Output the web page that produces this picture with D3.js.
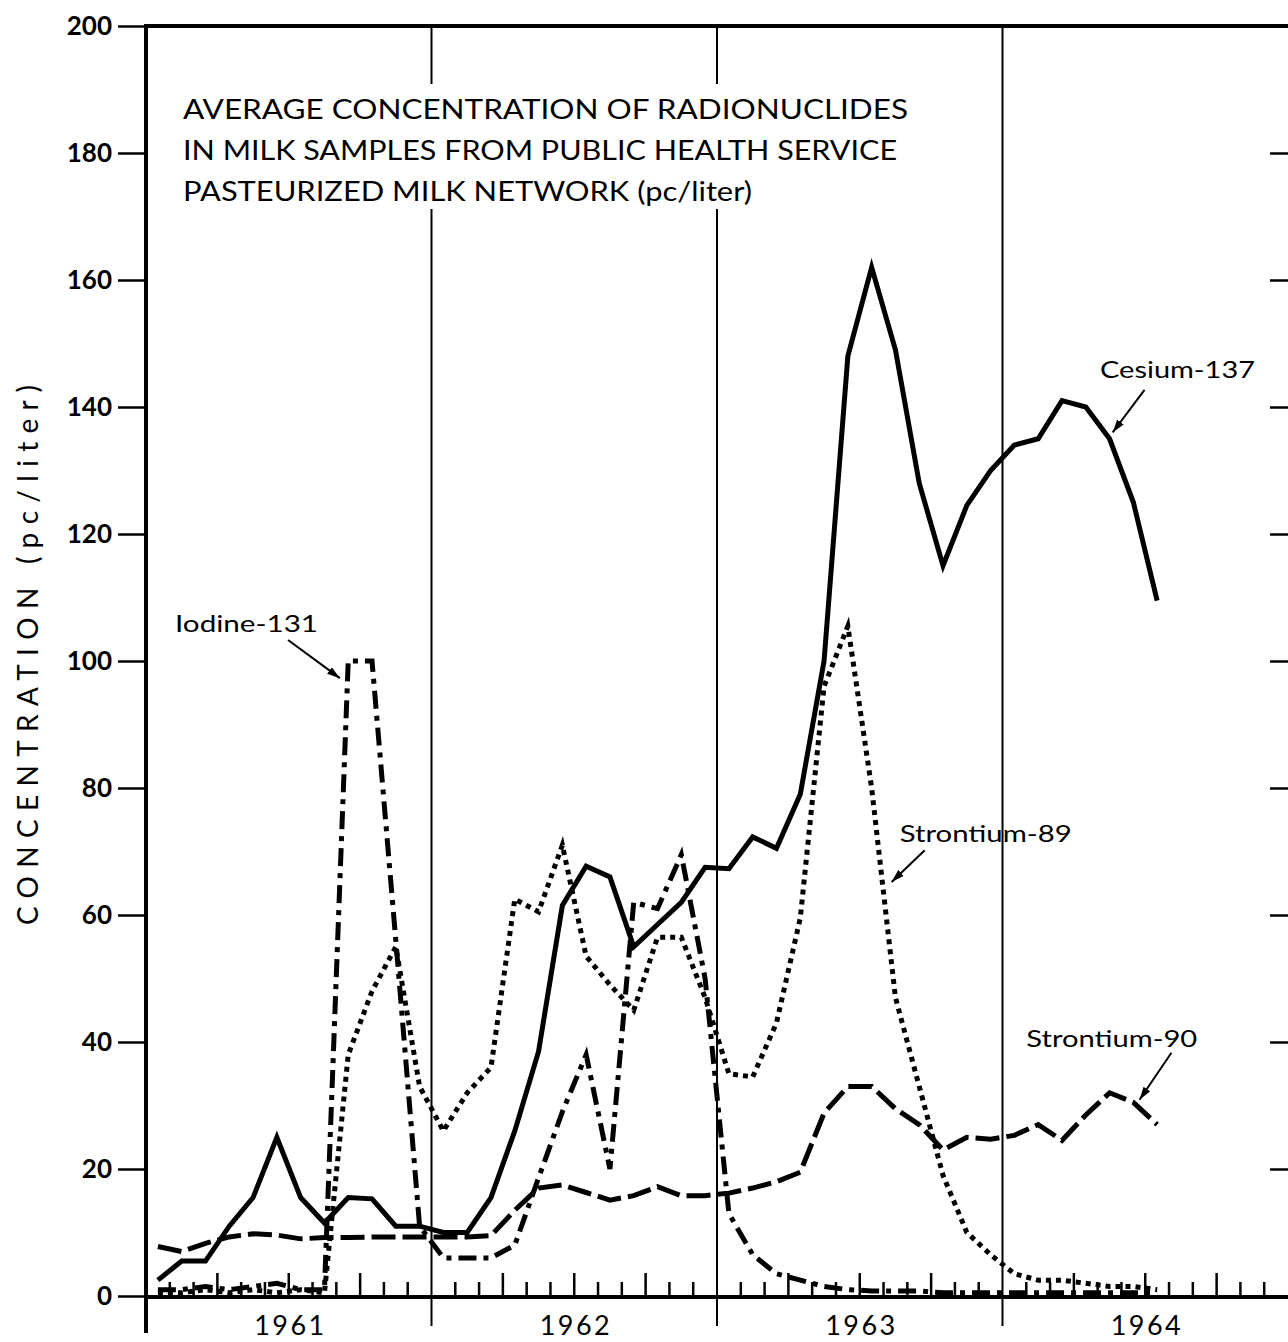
<!DOCTYPE html>
<html>
<head>
<meta charset="utf-8">
<script src="https://cdn.jsdelivr.net/npm/d3@7"></script>
<style>
  body { margin: 0; background: #fff; }
  text { font-family: Lato, "DejaVu Sans", sans-serif; fill: #000; }
</style>
</head>
<body>
<div id="chart"></div>
<script>

// Monthly averages, Jan 1961 - Jul 1964 (pc/liter)
var months = ["1961-01","1961-02","1961-03","1961-04","1961-05","1961-06","1961-07","1961-08","1961-09","1961-10","1961-11","1961-12",
              "1962-01","1962-02","1962-03","1962-04","1962-05","1962-06","1962-07","1962-08","1962-09","1962-10","1962-11","1962-12",
              "1963-01","1963-02","1963-03","1963-04","1963-05","1963-06","1963-07","1963-08","1963-09","1963-10","1963-11","1963-12",
              "1964-01","1964-02","1964-03","1964-04","1964-05","1964-06","1964-07"];

var cesium137 = [2.5, 5.5, 5.5, 11, 15.5, 25, 15.5, 11.5, 15.5, 15.3, 11, 11,
                 10, 10, 15.5, 26, 38.5, 61.5, 67.7, 66, 55, 58.5, 62, 67.5,
                 67.3, 72.3, 70.5, 79, 100, 148, 162, 149, 128, 115, 124.5, 130,
                 134, 135, 141, 140, 135, 125, 109.5];

var strontium89 = [0.5, 0.5, 1, 0.5, 1, 0.5, 1, 0.5, 38, 48, 55, 33,
                   26, 32, 36, 62.5, 60.5, 71, 53.5, 49, 45, 56.5, 56.5, 47,
                   35, 34.5, 43, 59.5, 96, 105.5, 80, 47, 33, 19, 10, 6.5,
                   3.5, 2.5, 2.5, 2, 1.5, 1.5, 1];

var strontium90 = [7.8, 7.0, 8.3, 9.3, 9.8, 9.6, 9.0, 9.2, 9.2, 9.3, 9.3, 9.3,
                   9.3, 9.3, 9.5, 13.5, 17, 17.5, 16.3, 15.1, 15.8, 17.2, 15.8, 15.8,
                   16.2, 17, 18, 19.5, 28.8, 33, 33, 29.5, 27, 23, 25, 24.7,
                   25.3, 27, 24.5, 28.5, 32, 30.5, 27];

var iodine131 = [1, 1, 1.5, 1, 1.5, 2, 1, 1, 100, 100, 56, 11,
                 6, 6, 6, 8, 18.6, 29, 38, 20, 62, 61, 69.5, 50,
                 13, 6.5, 3.5, 2.5, 1.5, 1, 0.8, 0.8, 0.8, 0.5, 0.5, 0.5,
                 0.5, 0.5, 0.5, 0.5, 0.5, 0.5, 0.5];

var yTicks = [0, 20, 40, 60, 80, 100, 120, 140, 160, 180, 200];
var yearLabels = ["1961", "1962", "1963", "1964"];
var titleLines = ["AVERAGE CONCENTRATION OF RADIONUCLIDES",
                  "IN MILK SAMPLES FROM PUBLIC HEALTH SERVICE",
                  "PASTEURIZED MILK NETWORK (pc/liter)"];
var yTitle = "CONCENTRATION (pc/liter)";

(function () {

    var width = 1288,
        height = 1342,
        plotLeft = 146,
        plotBottom = 1296,
        plotTop = 26;

    // x runs in months from Jan 1961, the frame ends at Jan 1965
    var xScale = d3.scaleLinear().domain([0, 48]).range([plotLeft, width]),
        yScale = d3.scaleLinear().domain([0, 200]).range([plotBottom, plotTop]);

    var series = [
        { name: 'Strontium-90', values: strontium90, dash: '24,7' },
        { name: 'Iodine-131',   values: iodine131,   dash: '18,7,5,7' },
        { name: 'Strontium-89', values: strontium89, dash: '5,5' },
        { name: 'Cesium-137',   values: cesium137,   dash: null }
    ];

    // label position and arrow (from, to) in month / value units
    var notes = [
        { text: 'Iodine-131',   at: [1.22, 104.6], len: 143, from: [5.97, 103.3], to: [8.15, 97.3] },
        { text: 'Cesium-137',   at: [40.1, 144.6], len: 155, from: [41.97, 142.7], to: [40.63, 136] },
        { text: 'Strontium-89', at: [31.68, 71.5], len: 172, from: [32.73, 70.2], to: [31.34, 65.2] },
        { text: 'Strontium-90', at: [37.0, 39.2],  len: 171, from: [43.1, 38.3], to: [41.76, 30.9] }
    ];

    var svg = d3.select('#chart').append('svg')
        .attr('width', width)
        .attr('height', height);

    svg.append('defs').append('marker')
        .attr('id', 'arrow')
        .attr('markerUnits', 'userSpaceOnUse')
        .attr('markerWidth', 14)
        .attr('markerHeight', 10)
        .attr('refX', 13)
        .attr('refY', 4)
        .attr('orient', 'auto')
      .append('path')
        .attr('d', 'M0,0L13,4L0,8Z')
        .attr('fill', '#000');

    // Year boundaries
    svg.selectAll('.year-line')
        .data([12, 24, 36])
      .enter().append('line')
        .attr('class', 'year-line')
        .attr('x1', function (d) { return xScale(d); })
        .attr('x2', function (d) { return xScale(d); })
        .attr('y1', plotTop)
        .attr('y2', 1326)
        .attr('stroke', '#000')
        .attr('stroke-width', 2);

    // Month ticks along the base, quarters taller
    var monthTicks = d3.range(1, 48).filter(function (m) { return m % 12 !== 0; });
    svg.selectAll('.month-tick')
        .data(monthTicks)
      .enter().append('line')
        .attr('class', 'month-tick')
        .attr('x1', function (d) { return xScale(d); })
        .attr('x2', function (d) { return xScale(d); })
        .attr('y1', plotBottom)
        .attr('y2', function (d) { return plotBottom - (d % 3 === 0 ? 23 : 14); })
        .attr('stroke', '#000')
        .attr('stroke-width', 2.5);

    // Left axis with labels
    var yAxis = d3.axisLeft(yScale).tickValues(yTicks).tickSize(28).tickPadding(6).tickSizeOuter(0);
    var gy = svg.append('g')
        .attr('transform', 'translate(' + plotLeft + ',0)')
        .call(yAxis);
    gy.select('.domain').remove();
    gy.selectAll('.tick line').attr('stroke-width', 2.5);
    gy.selectAll('.tick text')
        .style('font-size', '26px')
        .style('font-weight', 'bold')
        .attr('fill', '#000');

    // Right side ticks, no labels
    var rAxis = d3.axisLeft(yScale).tickValues(yTicks.slice(1, -1)).tickSize(18).tickFormat('');
    var gr = svg.append('g')
        .attr('transform', 'translate(' + width + ',0)')
        .call(rAxis);
    gr.select('.domain').remove();
    gr.selectAll('.tick line').attr('stroke-width', 2.5);

    // Frame
    svg.append('line')
        .attr('x1', plotLeft).attr('x2', plotLeft)
        .attr('y1', plotTop - 2).attr('y2', 1333)
        .attr('stroke', '#000').attr('stroke-width', 4);
    svg.append('line')
        .attr('x1', plotLeft).attr('x2', width)
        .attr('y1', plotTop).attr('y2', plotTop)
        .attr('stroke', '#000').attr('stroke-width', 4);
    svg.append('line')
        .attr('x1', plotLeft).attr('x2', width)
        .attr('y1', plotBottom + 1).attr('y2', plotBottom + 1)
        .attr('stroke', '#000').attr('stroke-width', 4);

    // Year labels under the axis
    var xAxis = d3.axisBottom(xScale)
        .tickValues([6, 18, 30, 42])
        .tickSize(0)
        .tickPadding(20)
        .tickFormat(function (d, i) { return yearLabels[i]; });
    var gx = svg.append('g')
        .attr('transform', 'translate(0,' + plotBottom + ')')
        .call(xAxis);
    gx.select('.domain').remove();
    gx.selectAll('.tick text')
        .style('font-size', '27px')
        .attr('fill', '#000')
        .attr('textLength', 70)
        .attr('lengthAdjust', 'spacing');

    // Data lines
    var line = d3.line()
        .x(function (d, i) { return xScale(i + 0.5); })
        .y(function (d) { return yScale(d); });

    svg.selectAll('.series')
        .data(series)
      .enter().append('path')
        .attr('class', 'series')
        .attr('d', function (d) { return line(d.values); })
        .attr('fill', 'none')
        .attr('stroke', '#000')
        .attr('stroke-width', 5)
        .attr('stroke-linejoin', 'miter')
        .attr('stroke-dasharray', function (d) { return d.dash; });

    // Title block breaks the year lines
    svg.append('rect')
        .attr('x', 175).attr('y', 84)
        .attr('width', 745).attr('height', 125)
        .attr('fill', '#fff');

    svg.selectAll('.title')
        .data(titleLines)
      .enter().append('text')
        .attr('class', 'title')
        .attr('x', 183)
        .attr('y', function (d, i) { return 119 + i * 41; })
        .attr('textLength', function (d, i) { return [725, 714, 569][i]; })
        .attr('lengthAdjust', 'spacingAndGlyphs')
        .style('font-size', '27px')
        .text(function (d) { return d; });

    // Axis title
    svg.append('text')
        .attr('transform', 'translate(38,655) rotate(-90)')
        .attr('text-anchor', 'middle')
        .attr('textLength', 540)
        .attr('lengthAdjust', 'spacing')
        .style('font-size', '28px')
        .text(yTitle);

    // Series labels with arrows
    var note = svg.selectAll('.note')
        .data(notes)
      .enter().append('g')
        .attr('class', 'note');

    note.append('text')
        .attr('x', function (d) { return xScale(d.at[0]); })
        .attr('y', function (d) { return yScale(d.at[1]); })
        .attr('textLength', function (d) { return d.len; })
        .attr('lengthAdjust', 'spacingAndGlyphs')
        .style('font-size', '24px')
        .text(function (d) { return d.text; });

    note.append('line')
        .attr('x1', function (d) { return xScale(d.from[0]); })
        .attr('y1', function (d) { return yScale(d.from[1]); })
        .attr('x2', function (d) { return xScale(d.to[0]); })
        .attr('y2', function (d) { return yScale(d.to[1]); })
        .attr('stroke', '#000')
        .attr('stroke-width', 2)
        .attr('marker-end', 'url(#arrow)');

})();

</script>
</body>
</html>
